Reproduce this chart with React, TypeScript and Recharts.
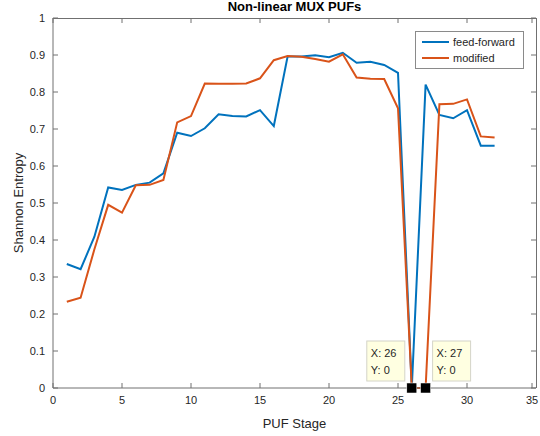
import React from 'react';
import {
  LineChart,
  Line,
  XAxis,
  YAxis,
  ReferenceDot
} from 'recharts';

const stages = [
  1, 2, 3, 4, 5, 6, 7, 8, 9, 10, 11, 12, 13, 14, 15, 16,
  17, 18, 19, 20, 21, 22, 23, 24, 25, 26, 27, 28, 29, 30, 31, 32
];
const feedForward = [
  0.335, 0.321, 0.409, 0.542, 0.535, 0.549, 0.555, 0.58, 0.69, 0.681, 0.702, 0.74,
  0.735, 0.734, 0.751, 0.708, 0.896, 0.896, 0.899, 0.894, 0.906, 0.879, 0.882, 0.873,
  0.852, 0, 0.82, 0.738, 0.729, 0.751, 0.655, 0.655
];
const modified = [
  0.233, 0.244, 0.375, 0.495, 0.474, 0.548, 0.549, 0.562, 0.718, 0.735, 0.823, 0.822,
  0.822, 0.823, 0.837, 0.886, 0.897, 0.895, 0.889, 0.882, 0.902, 0.839, 0.836, 0.835,
  0.756, 0, 0, 0.767, 0.768, 0.78, 0.68, 0.677
];
const xTicks = [0, 5, 10, 15, 20, 25, 30, 35];
const yTicks = [0, 0.1, 0.2, 0.3, 0.4, 0.5, 0.6, 0.7, 0.8, 0.9, 1];

const data = stages.map((s, i) => ({
  stage: s,
  feedForward: feedForward[i],
  modified: modified[i]
}));

const series = [
  { key: 'feedForward', name: 'feed-forward', color: '#0072BD' },
  { key: 'modified', name: 'modified', color: '#D95319' }
];

// datatips shown on the chart
const tips = [
  { stage: 26, value: feedForward[25], side: 'left' },
  { stage: 27, value: modified[26], side: 'right' }
];

const W = 540;
const H = 436;
const margin = { top: 18, right: 4, bottom: 0, left: 0 };
const yAxisW = 53;
const xAxisH = 48;
const plotW = W - margin.left - margin.right - yAxisW;
const plotH = H - margin.top - margin.bottom - xAxisH;
const gap = 8; // tickSize 6 + tickMargin 2 (label offset from axis)
const tickLen = 5;

const font = '"Liberation Sans", Arial, sans-serif';
const axisColor = '#707070';
const textColor = '#262626';

// MATLAB style: ticks point inward on all four sides
const XTick = (props: any) => {
  const { x, y, payload } = props;
  const axisY = y - gap;
  return (
    <g>
      <line x1={x} y1={axisY} x2={x} y2={axisY - tickLen} stroke={axisColor} />
      <line x1={x} y1={axisY - plotH} x2={x} y2={axisY - plotH + tickLen} stroke={axisColor} />
      <text x={x} y={y} dy="0.71em" textAnchor="middle" fontSize={11} fontFamily={font} fill={textColor}>
        {payload.value}
      </text>
    </g>
  );
};

const YTick = (props: any) => {
  const { x, y, payload } = props;
  const axisX = x + gap;
  return (
    <g>
      <line x1={axisX} y1={y} x2={axisX + tickLen} y2={y} stroke={axisColor} />
      <line x1={axisX + plotW} y1={y} x2={axisX + plotW - tickLen} y2={y} stroke={axisColor} />
      <text x={x} y={y} dy="0.355em" textAnchor="end" fontSize={11} fontFamily={font} fill={textColor}>
        {payload.value}
      </text>
    </g>
  );
};

const tipShape = (tip: any) => (props: any) => {
  const { cx, cy } = props;
  const left = tip.side === 'left' ? cx - 45 : cx + 7;
  return (
    <g>
      <rect x={left} y={cy - 47} width={38} height={40} fill="#ffffe1" stroke="#d4d4c8" />
      <text x={left + 4} y={cy - 31} fontSize={11} fontFamily={font} fill={textColor}>
        {`X: ${tip.stage}`}
      </text>
      <text x={left + 4} y={cy - 14} fontSize={11} fontFamily={font} fill={textColor}>
        {`Y: ${tip.value}`}
      </text>
      <rect x={cx - 5} y={cy - 5} width={10} height={10} fill="#000" stroke="#fff" strokeWidth={0.5} />
    </g>
  );
};

const App = () => {
  return (
    <div style={{ position: 'absolute', left: 0, top: 0, width: W, height: H, background: '#fff' }}>
      <div
        style={{
          position: 'absolute',
          left: yAxisW,
          width: plotW,
          top: 0,
          textAlign: 'center',
          fontFamily: font,
          fontWeight: 'bold',
          fontSize: 13,
          lineHeight: '14px',
          color: '#000'
        }}
      >
        Non-linear MUX PUFs
      </div>
      {/* top and right edges of the axes box */}
      <div
        style={{
          position: 'absolute',
          left: yAxisW,
          top: margin.top - 0.5,
          width: plotW + 0.5,
          height: plotH,
          borderTop: `1px solid ${axisColor}`,
          borderRight: `1px solid ${axisColor}`,
          boxSizing: 'border-box',
          pointerEvents: 'none'
        }}
      />
      <LineChart width={W} height={H} data={data} margin={margin}>
        <XAxis
          dataKey="stage"
          type="number"
          domain={[0, 35]}
          ticks={xTicks}
          height={xAxisH}
          stroke={axisColor}
          tickLine={false}
          tick={(p: any) => <XTick {...p} />}
          label={{ value: 'PUF Stage', position: 'insideBottom', offset: 8, fill: textColor, fontSize: 13, fontFamily: font }}
        />
        <YAxis
          type="number"
          domain={[0, 1]}
          ticks={yTicks}
          width={yAxisW}
          stroke={axisColor}
          tickLine={false}
          tick={(p: any) => <YTick {...p} />}
          label={{ value: 'Shannon Entropy', angle: -90, position: 'insideLeft', offset: 18, fill: textColor, fontSize: 13, fontFamily: font, style: { textAnchor: 'middle' } }}
        />
        {series.map((s) => (
          <Line
            key={s.key}
            type="linear"
            dataKey={s.key}
            name={s.name}
            stroke={s.color}
            strokeWidth={2}
            dot={false}
            isAnimationActive={false}
          />
        ))}
        {tips.map((t) => (
          <ReferenceDot
            key={t.stage}
            x={t.stage}
            y={t.value}
            ifOverflow="visible"
            shape={tipShape(t)}
          />
        ))}
      </LineChart>
      <div
        style={{
          position: 'absolute',
          left: 415,
          top: 31,
          width: 95,
          border: '1px solid #8a8a8a',
          background: '#fff',
          padding: '2px 6px',
          fontFamily: font,
          fontSize: 11,
          color: textColor
        }}
      >
        {series.map((s) => (
          <div key={s.key} style={{ display: 'flex', alignItems: 'center', height: 16 }}>
            <div style={{ width: 27, height: 2, background: s.color, marginRight: 4 }} />
            <span>{s.name}</span>
          </div>
        ))}
      </div>
    </div>
  );
};

export default App;
